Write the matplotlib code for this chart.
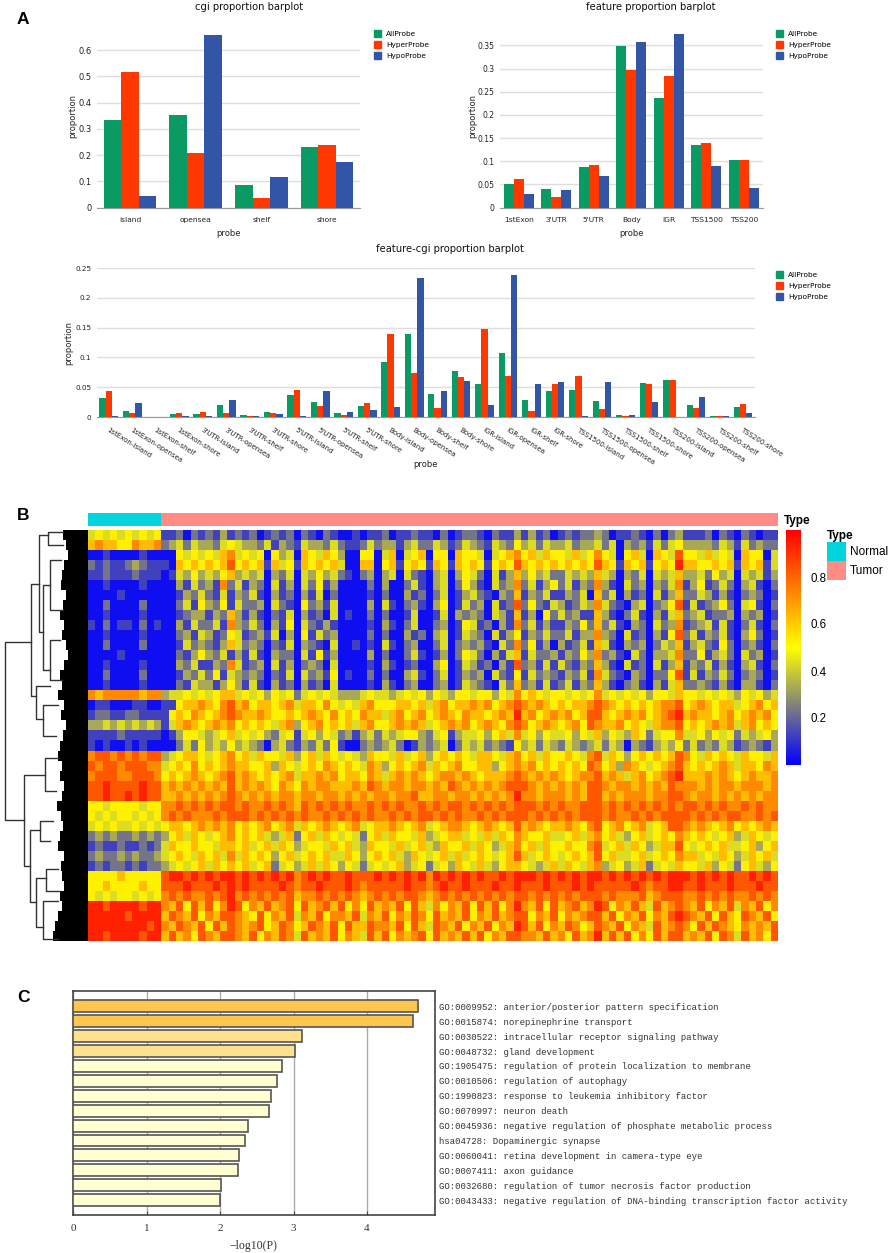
import matplotlib
matplotlib.use('Agg')
import matplotlib.pyplot as plt
import numpy as np
from matplotlib.colors import LinearSegmentedColormap
from matplotlib.cm import ScalarMappable
from matplotlib.colors import Normalize
from matplotlib.patches import Patch

W, H = 894, 1253

# panel A values
cgi_cats = ['island', 'opensea', 'shelf', 'shore']
cgi_all = [0.333, 0.353, 0.084, 0.230]
cgi_hyper = [0.516, 0.207, 0.035, 0.238]
cgi_hypo = [0.043, 0.659, 0.118, 0.174]

feat_cats = ['1stExon', "3'UTR", "5'UTR", 'Body', 'IGR', 'TSS1500', 'TSS200']
feat_all = [0.050, 0.039, 0.088, 0.349, 0.236, 0.134, 0.102]
feat_hyper = [0.061, 0.023, 0.091, 0.296, 0.285, 0.139, 0.102]
feat_hypo = [0.029, 0.037, 0.067, 0.358, 0.374, 0.090, 0.042]

fc_cats = ['1stExon-island', '1stExon-opensea', '1stExon-shelf', '1stExon-shore',
           "3'UTR-island", "3'UTR-opensea", "3'UTR-shelf", "3'UTR-shore",
           "5'UTR-island", "5'UTR-opensea", "5'UTR-shelf", "5'UTR-shore",
           'Body-island', 'Body-opensea', 'Body-shelf', 'Body-shore',
           'IGR-island', 'IGR-opensea', 'IGR-shelf', 'IGR-shore',
           'TSS1500-island', 'TSS1500-opensea', 'TSS1500-shelf', 'TSS1500-shore',
           'TSS200-island', 'TSS200-opensea', 'TSS200-shelf', 'TSS200-shore']
fc_all = [.032, .010, .0005, .0055, .005, .020, .004, .008, .037, .025, .006, .019, .092, .140,
          .039, .078, .056, .107, .028, .044, .046, .027, .003, .057, .0625, .0195, .001, .017]
fc_hyper = [.044, .007, .0005, .007, .009, .006, .001, .006, .045, .019, .003, .023, .139, .074,
            .015, .067, .148, .069, .0095, .056, .068, .013, .0015, .055, .0615, .0155, .001, .021]
fc_hypo = [.001, .023, .0003, .0015, .001, .028, .002, .0045, .001, .044, .009, .011, .017, .234,
           .043, .061, .020, .239, .055, .058, .001, .058, .004, .026, .0005, .033, .001, .006]

# panel B, coarse hand read grid, one digit = methylation level in tenths
# 10 normal columns then 84 tumor columns
heat_rows = [
    '4545454545 112021 213121 201212 021021 001011 201121 102012 210211 313120 121223 201121 020231 112021 021011',
    '6766557667 234243 324543 324132 143324 211242 331342 243124 321432 534243 342334 240323 142453 333243 142322',
    '0010000100 005454 546745 450534 065465 300550 460456 055065 540456 756465 546457 540564 065485 546454 065504',
    '2121123211 106565 656856 561645 165656 400660 561565 165165 651565 865656 565658 651656 156596 655656 165614',
    '1121112111 014353 435634 340324 043534 210230 340421 034035 420413 635342 243436 430324 043463 342534 043413',
    '0010000100 003142 317241 320413 042513 000020 300241 034025 310423 724135 241327 310423 032471 351242 034102',
    '0000100000 001324 214132 410312 031402 000010 200312 024013 421032 613241 132406 240312 041362 243131 023201',
    '0020000200 002415 325142 230421 052314 000030 410231 035014 230412 825214 312437 421034 023581 412352 045102',
    '0010000100 001233 132631 310214 031204 010020 200140 014032 320431 613052 423116 310241 031462 341223 032301',
    '1020110201 003142 241732 420315 042131 000010 310240 023015 412031 724131 132526 241032 042371 234141 024102',
    '0010000100 002314 312541 231403 051423 000020 200312 034014 320413 513242 241337 320412 031582 413241 035201',
    '0020000200 001423 213642 320214 032104 001010 410230 024023 231042 725130 312416 410323 024361 342152 023102',
    '0000100000 002135 324131 410322 041513 000030 200241 013025 420314 614223 132537 231042 033472 251342 042301',
    '0010000100 003241 132741 230413 023204 000010 310120 035014 312031 823141 421326 310412 041361 324131 034102',
    '0020000200 001324 251432 320214 042315 010020 200341 024013 230421 514232 132417 421032 022581 413242 023201',
    '0010000100 002143 313531 410312 031204 000010 310230 023014 321042 623141 241326 310231 031462 232131 033102',
    '7677777677 344545 456645 453545 245454 333454 434545 354355 455354 756545 545457 454545 355465 545454 354534',
    '0110001100 115667 657867 566567 466575 454675 556656 467566 767567 876765 656678 765656 567785 676566 456756',
    '1221122111 156576 567876 676556 567657 565766 467567 567657 665676 967567 675688 656767 567896 766567 567675',
    '3343434343 146765 676756 565467 356756 564675 567676 456767 567657 875676 567587 667565 467785 656767 467565',
    '1111211111 013554 345645 453245 145354 231342 434553 245134 453564 745354 453546 354365 245574 453545 243453',
    '1010010100 002425 343534 320342 132425 100232 342013 234024 342321 534243 243234 243032 134352 423243 123213',
    '7887878788 345665 456756 465546 356465 454365 546456 356565 466546 756465 565478 465356 565687 546565 465546',
    '8788788877 456575 656766 556365 456576 565476 356567 465675 566356 767565 656587 563765 456786 565676 466576',
    '7888778887 565676 567867 656567 466767 566576 467676 567767 656667 876767 656778 676467 567896 667676 567667',
    '8898888988 676767 676867 676576 576776 667687 677677 676876 767678 887676 767688 767767 676877 767677 677767',
    '8898898988 667676 767876 767677 677677 676767 767786 677677 676767 977677 767688 676777 677887 677676 767677',
    '5545555455 778787 878878 778787 687878 787787 878778 787887 878787 888787 877888 787878 787878 878787 787877',
    '5454554545 787877 787888 787878 787787 878787 787878 878787 787878 887878 787888 787787 878888 787878 877878',
    '4545445454 566567 676756 567567 465676 567456 676567 456776 567656 867656 676578 567567 456887 676567 565676',
    '2323223232 356465 456756 564346 256465 454256 465546 345664 546465 765564 456467 564356 456576 565456 346545',
    '1211211212 465565 546656 456465 345546 564365 546456 436556 465346 756465 565578 456465 346685 456564 456356',
    '2322323223 456546 564746 565356 456564 465356 564365 456464 565456 864565 456568 564456 456576 645465 346564',
    '1212212122 345456 465656 456245 346465 354245 456345 245365 464356 654346 465467 345346 245465 546354 256435',
    '5555655555 899898 989989 898989 789898 898889 898989 798989 898898 999898 989899 898989 898999 898989 889898',
    '5565555655 888988 898989 888898 788988 898788 888988 789889 888988 988898 889898 888898 788998 898889 888988',
    '5454554545 787877 878978 787878 677878 787678 787887 678787 878787 887878 787888 787778 678887 787878 778787',
    '9989999899 768586 857985 768678 586786 857586 768586 475768 586857 976858 678679 857686 486787 685768 476857',
    '9999989999 687685 768876 585768 476857 768476 857687 586768 576867 885768 576788 685768 576898 768586 587685',
    '9999999989 768768 586876 785687 568768 586687 768586 487685 768576 986857 687568 768576 486787 586876 576768',
    '9989999899 686758 768876 857687 486768 576486 857678 586768 685768 877686 758679 686857 586886 768587 486758',
]
type_counts = [10, 84]
type_names = ['Normal', 'Tumor']

# tree merges: height, row of each child, height of each child
tree_merges = [
    (83, 11.2, 28.9, 57, 64),
    (57, 5.4, 16.6, 49.5, 52),
    (52, 15.6, 18.9, 38, 45),
    (45, 17.5, 20.5, 30, 32),
    (49.5, 0.5, 10.2, 40, 45),
    (40, 0.2, 1.5, 25, 25),
    (45, 5.5, 14.0, 38, 38),
    (38, 3.0, 8.0, 27, 25),
    (38, 11.0, 15.0, 28, 26),
    (64, 24.4, 33.5, 43, 58),
    (43, 22.7, 26.0, 30, 32),
    (58, 29.9, 37.1, 48, 52),
    (48, 29.0, 31.0, 35, 38),
    (52, 34.7, 39.6, 42, 45),
    (42, 33.8, 36.0, 30, 28),
    (45, 37.0, 40.8, 30, 30),
]
# how far the solid leaf mass reaches, per row
leaf_reach = [25, 22, 20, 24, 26, 27, 22, 25, 28, 24, 26, 22, 20, 24, 28, 26, 30, 24, 27, 22, 25,
              28, 30, 26, 28, 24, 26, 31, 27, 25, 28, 30, 24, 27, 26, 24, 28, 26, 30, 33, 35]

# panel C values
go_terms = ['GO:0009952: anterior/posterior pattern specification',
            'GO:0015874: norepinephrine transport',
            'GO:0030522: intracellular receptor signaling pathway',
            'GO:0048732: gland development',
            'GO:1905475: regulation of protein localization to membrane',
            'GO:0010506: regulation of autophagy',
            'GO:1990823: response to leukemia inhibitory factor',
            'GO:0070997: neuron death',
            'GO:0045936: negative regulation of phosphate metabolic process',
            'hsa04728: Dopaminergic synapse',
            'GO:0060041: retina development in camera-type eye',
            'GO:0007411: axon guidance',
            'GO:0032680: regulation of tumor necrosis factor production',
            'GO:0043433: negative regulation of DNA-binding transcription factor activity']
go_logp = [4.69, 4.62, 3.11, 3.025, 2.85, 2.78, 2.70, 2.66, 2.375, 2.34, 2.255, 2.24, 2.02, 2.005]
go_colors = ['#FFC64F', '#FFC64F', '#FFE08F', '#FFE08F'] + ['#FFFFD2'] * 10

GREEN, RED, BLUE = '#0A9A63', '#FF3800', '#3355A5'
TXT = '#222222'

fig = plt.figure(figsize=(W / 100, H / 100), dpi=100)


def box(x0, y0, x1, y1):
    # pixel box, y counted from the top of the picture
    return fig.add_axes([x0 / W, 1 - y1 / H, (x1 - x0) / W, (y1 - y0) / H])


def px_text(x, y, s, **kw):
    fig.text(x / W, 1 - y / H, s, **kw)


def proportion_bars(ax, cats, series, ymax, ticks, ticklabels, tick_size):
    x = np.arange(len(cats))
    w = 0.267
    for i, (vals, col) in enumerate(zip(series, [GREEN, RED, BLUE])):
        ax.bar(x + (i - 1) * w, vals, w, color=col, zorder=3)
    ax.set_xlim(-0.5, len(cats) - 0.5)
    ax.set_ylim(0, ymax)
    ax.set_yticks(ticks)
    ax.set_yticklabels(ticklabels, fontsize=tick_size, color=TXT)
    ax.set_xticks(x)
    ax.grid(axis='y', color='#DEDEDE', lw=1, zorder=0)
    ax.tick_params(axis='x', length=0, pad=7)
    ax.tick_params(axis='y', length=0, pad=4)
    for s in ['top', 'left', 'right']:
        ax.spines[s].set_visible(False)
    ax.spines['bottom'].set_color('#999999')


def probe_legend(ax, x, y):
    handles = [Patch(color=c, label=l) for c, l in
               zip([GREEN, RED, BLUE], ['AllProbe', 'HyperProbe', 'HypoProbe'])]
    fig.legend(handles=handles, loc='upper left', bbox_to_anchor=(x / W, 1 - y / H), frameon=False,
               fontsize=5.3, handlelength=1.0, handleheight=1.0, handletextpad=0.65,
               labelspacing=0.6, borderpad=0, borderaxespad=0)


# A, left
ax1 = box(97, 34.3, 360, 207.5)
proportion_bars(ax1, cgi_cats, [cgi_all, cgi_hyper, cgi_hypo], 0.66,
                [0, .1, .2, .3, .4, .5, .6], ['0', '0.1', '0.2', '0.3', '0.4', '0.5', '0.6'], 6)
ax1.set_xticklabels(cgi_cats, fontsize=5.4, color=TXT)
ax1.set_xlabel('probe', fontsize=6, color=TXT)
ax1.xaxis.set_label_coords(0.5, -0.125)
ax1.set_ylabel('proportion', fontsize=6, color=TXT)
ax1.yaxis.set_label_coords(-0.076, 0.53)
px_text(249, 7, 'cgi proportion barplot', fontsize=7.2, color='#111111', ha='center', va='center')
probe_legend(ax1, 374, 30)

# A, right
ax2 = box(500, 34.3, 762.7, 207.5)
proportion_bars(ax2, feat_cats, [feat_all, feat_hyper, feat_hypo], 0.374,
                [0, .05, .1, .15, .2, .25, .3, .35],
                ['0', '0.05', '0.1', '0.15', '0.2', '0.25', '0.3', '0.35'], 5.5)
ax2.set_xticklabels(feat_cats, fontsize=5.4, color=TXT)
ax2.set_xlabel('probe', fontsize=6, color=TXT)
ax2.xaxis.set_label_coords(0.5, -0.125)
ax2.set_ylabel('proportion', fontsize=6, color=TXT)
ax2.yaxis.set_label_coords(-0.088, 0.53)
px_text(651, 7, 'feature proportion barplot', fontsize=7.2, color='#111111', ha='center', va='center')
probe_legend(ax2, 776, 30)

# A, bottom
ax3 = box(97, 268, 754.7, 417)
proportion_bars(ax3, fc_cats, [fc_all, fc_hyper, fc_hypo], 0.25,
                [0, .05, .1, .15, .2, .25], ['0', '0.05', '0.1', '0.15', '0.2', '0.25'], 5.2)
ax3.set_xticklabels(fc_cats, fontsize=5.0, color=TXT, rotation=-32, ha='left', rotation_mode='anchor')
ax3.set_xlabel('probe', fontsize=6, color=TXT)
ax3.xaxis.set_label_coords(0.5, -0.29)
ax3.set_ylabel('proportion', fontsize=6, color=TXT)
ax3.yaxis.set_label_coords(-0.036, 0.5)
px_text(450, 248.5, 'feature-cgi proportion barplot', fontsize=7.2, color='#111111', ha='center', va='center')
probe_legend(ax3, 776, 271)

# B, heatmap
cmap = LinearSegmentedColormap.from_list('byr', ['#0000FF', '#FFFF00', '#FF0000'])
heat = np.array([[int(c) / 10 + 0.03 for c in r.replace(' ', '')] for r in heat_rows])
ax4 = box(88, 530, 778, 941)
ax4.imshow(heat, cmap=cmap, vmin=0, vmax=1, aspect='auto', interpolation='nearest')
ax4.axis('off')

# B, type strip
ax5 = box(88, 513, 778, 526)
ax5.barh(0, type_counts[0], 1, color='#00D5DF')
ax5.barh(0, type_counts[1], 1, left=type_counts[0], color='#FF8C85')
ax5.set_xlim(0, sum(type_counts))
ax5.set_ylim(-0.5, 0.5)
ax5.axis('off')

# B, tree
ax6 = box(0, 530, 88, 941)
ax6.set_xlim(88, 0)
ax6.set_ylim(41, 0)
ax6.axis('off')
ax6.fill_betweenx(np.arange(42), np.append(leaf_reach, leaf_reach[-1]), 0, step='post', color='black', lw=0)
for h, ra, rb, ha_, hb_ in tree_merges:
    ax6.plot([ha_, h, h, hb_], [ra, ra, rb, rb], color='#333333', lw=1)

# B, colour bar
cax = box(786, 530, 801, 765)
cb = fig.colorbar(ScalarMappable(Normalize(0, 1), cmap), cax=cax, ticks=[.2, .4, .6, .8])
cb.outline.set_visible(False)
cb.ax.tick_params(length=0, pad=7)
for t in cb.ax.get_yticklabels():
    t.set_fontsize(8.3)
    t.set_family('Liberation Sans')
px_text(797, 521, 'Type', fontsize=8.5, family='Liberation Sans', weight='bold', ha='center', va='center')

type_handles = [Patch(facecolor=c, edgecolor='none', label=l) for c, l in zip(['#00D5DF', '#FF8C85'], type_names)]
leg = fig.legend(handles=type_handles, title='Type', loc='upper left', bbox_to_anchor=(827 / W, 1 - 530 / H),
                 frameon=False, prop={'family': 'Liberation Sans', 'size': 8.5},
                 title_fontproperties={'family': 'Liberation Sans', 'size': 8.5, 'weight': 'bold'},
                 handlelength=1.6, handleheight=2.1, handletextpad=0.35, labelspacing=0,
                 borderpad=0, borderaxespad=0, alignment='left')

# C
ax7 = box(73, 991, 435, 1214.7)
y = np.arange(len(go_terms))
ax7.barh(y, go_logp, 0.8, color=go_colors, edgecolor='#555555', lw=1.2, zorder=3)
ax7.set_xlim(0, 4.925)
ax7.set_ylim(13.98, -1.03)
ax7.set_xticks([0, 1, 2, 3, 4])
ax7.set_xticklabels(['0', '1', '2', '3', '4'], family='Liberation Serif', fontsize=8, color='#333333')
ax7.grid(axis='x', color='#AAAAAA', lw=1, zorder=0)
ax7.yaxis.tick_right()
ax7.set_yticks(y)
ax7.set_yticklabels(go_terms, family='Liberation Mono', fontsize=6.5, color='#333333')
ax7.tick_params(axis='y', length=0, pad=3)
ax7.tick_params(axis='x', direction='in', length=3, pad=7, color='#444444')
for s in ax7.spines.values():
    s.set_color('#444444')
    s.set_linewidth(1.2)
ax7.set_xlabel('\u2212log10(P)', family='Liberation Serif', fontsize=8.5, color='#333333', labelpad=3)
ax7.xaxis.set_label_coords(0.497, -0.115)

# panel letters
px_text(23, 20, 'A', fontsize=12.5, family='Liberation Sans', weight='bold', ha='center', va='center')
px_text(23, 515, 'B', fontsize=12.5, family='Liberation Sans', weight='bold', ha='center', va='center')
px_text(23, 998, 'C', fontsize=12.5, family='Liberation Sans', weight='bold', ha='center', va='center')

fig.savefig('out.png', dpi=100)
